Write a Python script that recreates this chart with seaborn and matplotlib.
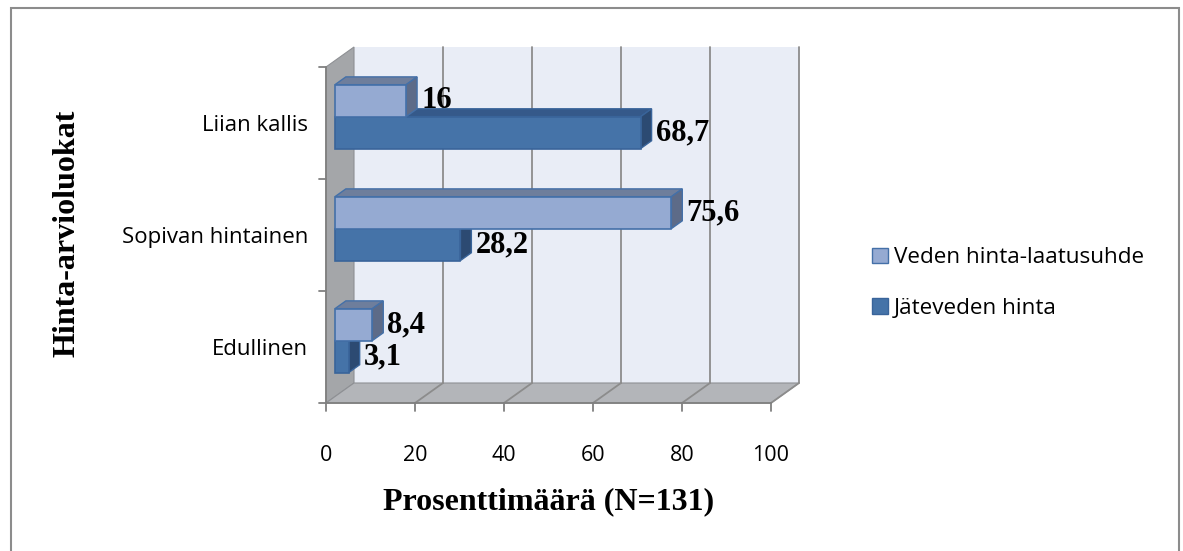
import matplotlib
matplotlib.use("Agg")
import matplotlib.pyplot as plt
from matplotlib.patches import Polygon, Rectangle
from matplotlib.transforms import Affine2D, IdentityTransform
from matplotlib.lines import Line2D
import seaborn as sns
import pandas as pd

# Data
categories = ["Liian kallis", "Sopivan hintainen", "Edullinen"]
series_names = ["Veden hinta-laatusuhde", "Jäteveden hinta"]
veden_hinta_laatu = [16.0, 75.6, 8.4]
jateveden_hinta = [68.7, 28.2, 3.1]
x_ticks = [0, 20, 40, 60, 80, 100]

df = pd.DataFrame({
    "Luokka": categories * 2,
    "Sarja": [series_names[0]] * 3 + [series_names[1]] * 3,
    "Arvo": veden_hinta_laatu + jateveden_hinta,
})

W, H, DPI = 1183, 551, 100
sns.set_theme(style="white")
plt.rcParams["font.family"] = ["Open Sans", "DejaVu Sans"]
plt.rcParams["text.color"] = "black"
SERIF = ["Liberation Serif", "DejaVu Serif"]

fig = plt.figure(figsize=(W / DPI, H / DPI), dpi=DPI)
fig.patch.set_facecolor("white")

# front plane of the 3-D box (pixels)
left, right, top, bottom = 326, 771, 67, 403
ax = fig.add_axes([left / W, 1 - bottom / H, (right - left) / W, (bottom - top) / H])
ax.set_facecolor("none")

light_face, light_top, light_side, light_edge = "#95aad2", "#6e7e9c", "#5d6b88", "#4470a8"
dark_face, dark_top, dark_side, dark_edge = "#4573a8", "#35598a", "#2c4a72", "#39649a"
palette = {series_names[0]: light_face, series_names[1]: dark_face}

sns.barplot(data=df, y="Luokka", x="Arvo", hue="Sarja", order=categories,
            hue_order=series_names, palette=palette, width=0.57, orient="h",
            ax=ax, legend=False, saturation=1)

ax.set_xlim(0, 100)
ax.set_ylim(2.5, -0.5)
ax.set_xticks(x_ticks)
ax.set_xticklabels([str(t) for t in x_ticks], fontsize=15.5, color="black")
ax.set_yticks([0, 1, 2])
ax.set_yticklabels(categories, fontsize=16, color="black")
ax.tick_params(axis="y", length=0, pad=13)
ax.tick_params(axis="x", length=0, pad=30)
ax.set_xlabel("")
ax.set_ylabel("")
for s in ax.spines.values():
    s.set_visible(False)

# depth vector of the box in display pixels (up = positive)
DX, DY = 28, 20
ident = IdentityTransform()


def pts(f, xy):
    return (ax.transData + Affine2D().translate(f * DX, f * DY)).transform(xy)


def poly(points, **kw):
    p = Polygon(points, closed=True, transform=ident, clip_on=False, **kw)
    ax.add_artist(p)
    return p


def seg(p0, p1, **kw):
    ln = Line2D([p0[0], p1[0]], [p0[1], p1[1]], transform=ident, clip_on=False, **kw)
    ax.add_artist(ln)
    return ln


wall_edge = "#8e9094"
grid_col = "#8c8c8c"
# back wall
poly([pts(1, (0, -0.5)), pts(1, (100, -0.5)), pts(1, (100, 2.5)), pts(1, (0, 2.5))],
     facecolor="#e9edf6", edgecolor="none", zorder=0.1)
# left wall
poly([pts(0, (0, 2.5)), pts(0, (0, -0.5)), pts(1, (0, -0.5)), pts(1, (0, 2.5))],
     facecolor="#a4a6a9", edgecolor=wall_edge, lw=0.8, zorder=0.2)
# floor
poly([pts(0, (0, 2.5)), pts(0, (100, 2.5)), pts(1, (100, 2.5)), pts(1, (0, 2.5))],
     facecolor="#b3b5b9", edgecolor=wall_edge, lw=0.8, zorder=0.2)
# gridlines on the back wall and across the floor
for t in x_ticks[1:]:
    seg(pts(1, (t, -0.5)), pts(1, (t, 2.5)), color=grid_col, lw=1.3, zorder=0.3)
    seg(pts(0, (t, 2.5)), pts(1, (t, 2.5)), color=grid_col, lw=1.3, zorder=0.3)

# axis lines and tick marks on the front edges
axis_col = "#808080"
seg(pts(0, (0, -0.5)), pts(0, (0, 2.5)), color=axis_col, lw=1.3, zorder=0.4)
seg(pts(0, (0, 2.5)), pts(0, (100, 2.5)), color=axis_col, lw=1.3, zorder=0.4)
for t in x_ticks:
    x0, y0 = pts(0, (t, 2.5))
    seg((x0, y0), (x0, y0 - 8), color=axis_col, lw=1.3, zorder=0.4)
for b in [-0.5, 0.5, 1.5, 2.5]:
    x0, y0 = pts(0, (0, b))
    seg((x0 - 7, y0), (x0, y0), color=axis_col, lw=1.3, zorder=0.4)

# 3-D bar faces
F0, F1 = 0.32, 0.71
styles = {series_names[0]: (light_top, light_side, light_edge, 3),
          series_names[1]: (dark_top, dark_side, dark_edge, 2)}
values = {series_names[0]: veden_hinta_laatu, series_names[1]: jateveden_hinta}
for container, name in zip(ax.containers, series_names):
    topc, sidec, edge, z = styles[name]
    for patch, val in zip(container.patches, values[name]):
        x0 = patch.get_x()
        y0 = patch.get_y()
        x1 = x0 + patch.get_width()
        y1 = y0 + patch.get_height()
        patch.set_transform(ax.transData + Affine2D().translate(F0 * DX, F0 * DY))
        patch.set_edgecolor(edge)
        patch.set_linewidth(1.2)
        patch.set_zorder(z + 0.5)
        patch.set_clip_on(False)
        poly([pts(F0, (x0, y0)), pts(F0, (x1, y0)), pts(F1, (x1, y0)), pts(F1, (x0, y0))],
             facecolor=topc, edgecolor=edge, lw=1.0, zorder=z)
        poly([pts(F0, (x1, y0)), pts(F0, (x1, y1)), pts(F1, (x1, y1)), pts(F1, (x1, y0))],
             facecolor=sidec, edgecolor=edge, lw=1.0, zorder=z)
        lx = pts(F1, (x1, y0))[0] + 4
        ly = pts(F0, (x1, (y0 + y1) / 2))[1]
        ax.text(lx, ly, f"{val:g}".replace(".", ","), transform=ident, ha="left",
                va="center", fontsize=22, fontweight="bold", family=SERIF,
                color="black", zorder=z + 1, clip_on=False)

ax.set_xlim(0, 100)
ax.set_ylim(2.5, -0.5)

# axis titles
fig.text(67 / W, 1 - 233 / H, "Hinta-arvioluokat", rotation=90, ha="center", va="center",
         fontsize=23, fontweight="bold", family=SERIF, color="black")
fig.text(549 / W, 1 - 502 / H, "Prosenttimäärä (N=131)", ha="center", va="center",
         fontsize=23, fontweight="bold", family=SERIF, color="black")

# legend
handles = [Rectangle((0, 0), 1, 1, facecolor=light_face, edgecolor=light_edge),
           Rectangle((0, 0), 1, 1, facecolor=dark_face, edgecolor=dark_edge)]
leg = fig.legend(handles, series_names, loc="center left",
                 bbox_to_anchor=(861 / W, 1 - 283 / H), frameon=False, fontsize=16.2,
                 handlelength=0.7, handleheight=0.7, handletextpad=0.25,
                 labelspacing=1.3, borderpad=0)
for txt in leg.get_texts():
    txt.set_color("black")

# outer frame
fig.add_artist(Rectangle((10.5 / W, -0.01), 1168 / W, 1 - 7.5 / H + 0.01,
                         transform=fig.transFigure, facecolor="none",
                         edgecolor="#8c8c8c", lw=1.5))

fig.savefig("out.png", dpi=DPI)
